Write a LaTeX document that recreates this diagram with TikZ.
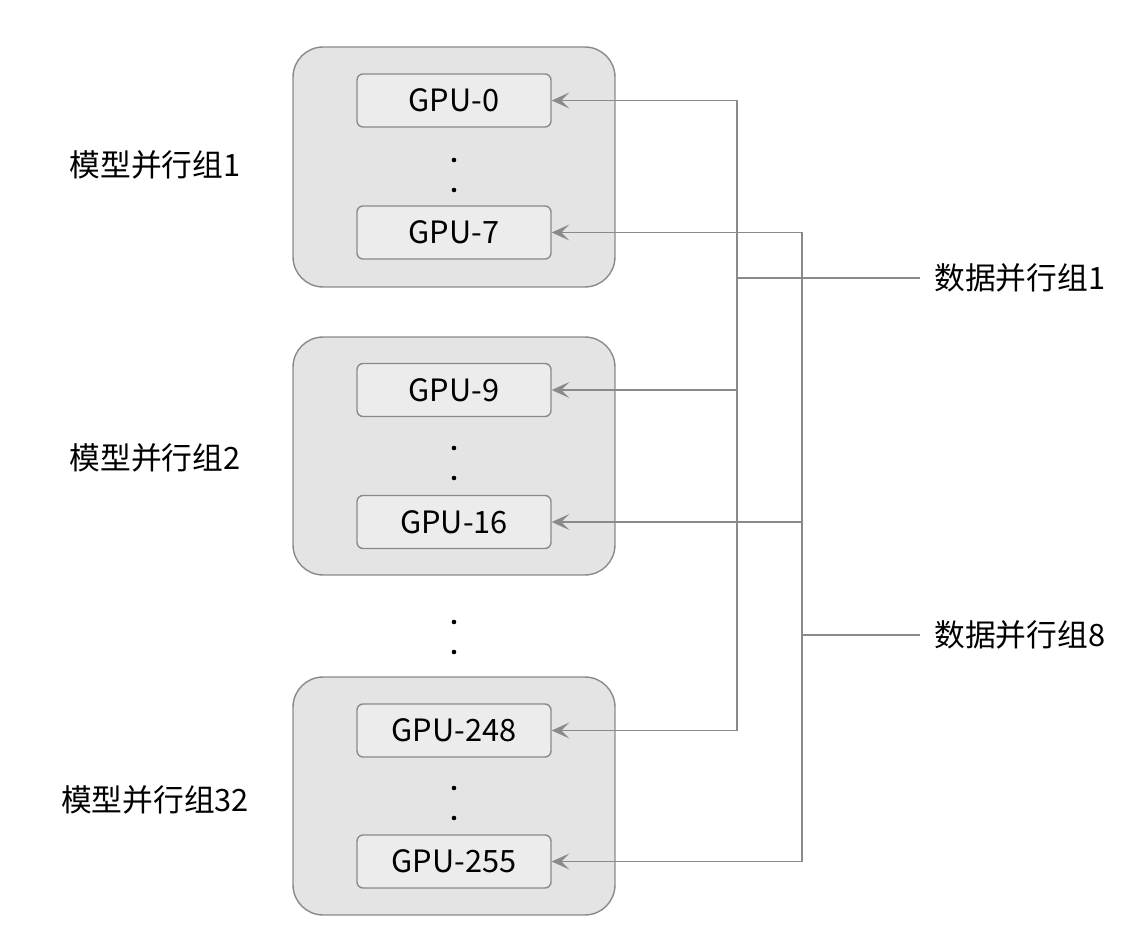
\documentclass[tikz,border=0pt]{standalone}
\usepackage{fontspec}
\setmainfont{Noto Sans CJK SC}
\usetikzlibrary{arrows.meta}
\definecolor{linegray}{HTML}{8A8A8A}
\definecolor{boxgray}{HTML}{E4E4E4}
\definecolor{gpugray}{HTML}{ECECEC}
\tikzset{
    group/.style={draw=linegray, fill=boxgray, rounded corners=0.6cm, line width=0.8pt,
        minimum width=6.44cm},
    gpu/.style={draw=linegray, fill=gpugray, rounded corners=0.12cm, line width=0.8pt,
        minimum width=3.88cm, minimum height=1.06cm, font=\fontsize{17.5}{20}\selectfont},
    label/.style={font=\fontsize{17.5}{20}\selectfont},
    link/.style={draw=linegray, line width=1pt},
    feed/.style={link, -{Stealth[length=10pt, width=9pt, inset=4.5pt]}},
}
\begin{document}
\begin{tikzpicture}[x=0.02cm, y=-0.02cm]
        \useasboundingbox (0,0) rectangle (1146,952);
        \node[group, minimum height=4.8cm] (grp1) at (454,167) {};
        \node[group, minimum height=4.76cm] (grp2) at (454,456) {};
        \node[group, minimum height=4.76cm] (grp32) at (454,796) {};
        \node[gpu] (gpu0) at (454,100.5) {GPU-0};
        \node[gpu] (gpu7) at (454,232.5) {GPU-7};
        \node[gpu] (gpu9) at (454,390) {GPU-9};
        \node[gpu] (gpu16) at (454,522) {GPU-16};
        \node[gpu] (gpu248) at (454,730.5) {GPU-248};
        \node[gpu] (gpu255) at (454,861.5) {GPU-255};
        \foreach \y in {160,190,448,478,622,652,788,818}
            \fill (454,\y) circle (1.3pt);
        \node[label] (mp1) at (155,165) {模型并行组1};
        \node[label] (mp2) at (155,458) {模型并行组2};
        \node[label] (mp32) at (155,800) {模型并行组32};
        \node[label, anchor=west, inner xsep=8pt] (dp1) at (920,278) {数据并行组1};
        \node[label, anchor=west, inner xsep=8pt] (dp8) at (920,635) {数据并行组8};
        \coordinate (busA) at (737,278);
        \coordinate (busB) at (802,635);
        \draw[feed] (busA) |- (gpu0);
        \draw[feed] (busA) |- (gpu9);
        \draw[feed] (busA) |- (gpu248);
        \draw[feed] (busB) |- (gpu7);
        \draw[feed] (busB) |- (gpu16);
        \draw[feed] (busB) |- (gpu255);
        \draw[link] (busA) -- (dp1.west);
        \draw[link] (busB) -- (dp8.west);
\end{tikzpicture}
\end{document}
